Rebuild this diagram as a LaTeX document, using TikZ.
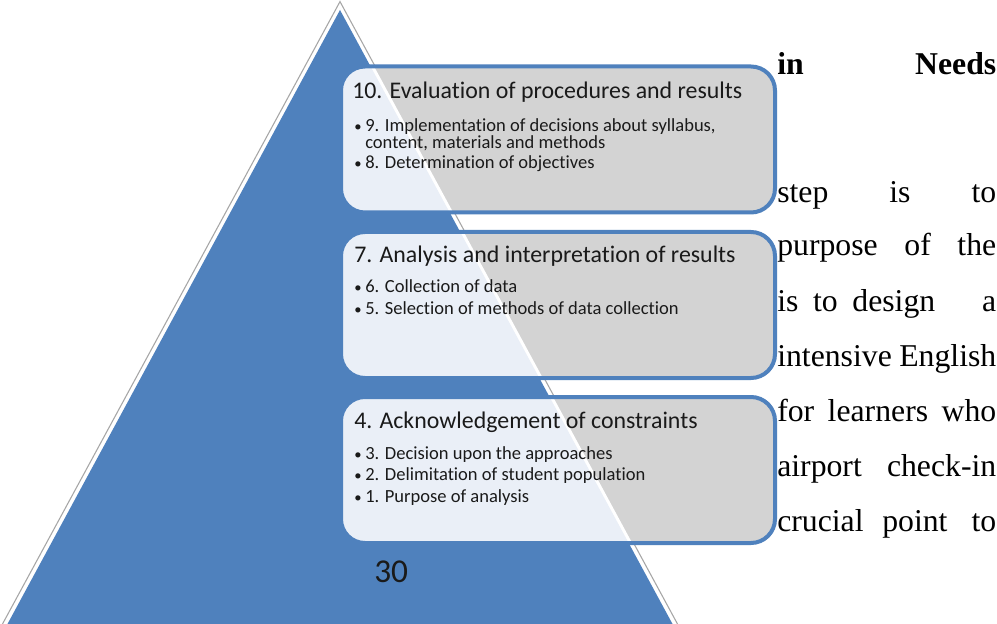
\documentclass[tikz,border=0pt]{standalone}
\usepackage{fontspec}
\setmainfont{Carlito}[Ligatures={NoCommon}]
\newfontfamily\tnr{Liberation Serif}
\definecolor{triblue}{HTML}{4F81BD}
\definecolor{boxgray}{HTML}{D3D3D3}
\definecolor{boxlight}{HTML}{EAEFF7}
\definecolor{outlinegray}{HTML}{A6A6A6}
\definecolor{ink}{HTML}{1A1A1A}
\begin{document}
\begin{tikzpicture}[x=0.75pt,y=-0.75pt,
  boxstyle/.style={rectangle, inner sep=0pt, outer sep=0pt, minimum width=325.5pt, minimum height=109.5pt, rounded corners=18pt, fill=boxgray},
  border/.style={draw=triblue, line width=3pt, rounded corners=18pt},
  title/.style={anchor=base west, inner sep=0pt, font=\fontsize{17.9}{20}\selectfont, text=ink},
  item/.style={anchor=base west, inner sep=0pt, font=\fontsize{13.9}{16}\selectfont, text=ink},
  dotm/.style={anchor=base west, inner sep=0pt, font=\fontsize{11}{12}\selectfont, text=ink},
  body/.style={anchor=base west, inner sep=0pt, font=\tnr\fontsize{23.8}{28}\selectfont, text=black},
]
\clip (0,0) rectangle (997,624);
\fill[white] (0,0) rectangle (997,624);
% triangle
\draw[outlinegray, line width=0.8pt] (-11.6,650) -- (340,1.6) -- (691.6,650);
\fill[triblue] (-6.6,650) -- (340,10) -- (686.6,650) -- cycle;
% boxes
\foreach \nm/\cy in {b1/139.5, b2/305, b3/470} {
  \node[boxstyle] (\nm) at (558,\cy) {};
  \begin{scope}
    \clip[rounded corners=18pt] (\nm.south west) rectangle (\nm.north east);
    \fill[white] (-10.1,650) -- (340,3.5) -- (690.1,650) -- cycle;
    \fill[boxlight] (-6.6,650) -- (340,10) -- (686.6,650) -- cycle;
  \end{scope}
  \draw[border] (\nm.south west) rectangle (\nm.north east);
}
% box 1 text
\node[title] (t1) at (352,99) {10. Evaluation of procedures and results};
\node[dotm] (d11) at (354,132) {•};
\node[item] (i11) at (365,132) {9. Implementation of decisions about syllabus,};
\node[item] (i12) at (365,149) {content, materials and methods};
\node[dotm] (d13) at (354,169) {•};
\node[item] (i13) at (365,169) {8. Determination of objectives};
% box 2 text
\node[title] (t2) at (354,263) {7. Analysis and interpretation of results};
\node[dotm] (d21) at (354,293) {•};
\node[item] (i21) at (365,293) {6. Collection of data};
\node[dotm] (d22) at (354,315) {•};
\node[item] (i22) at (365,315) {5. Selection of methods of data collection};
% box 3 text
\node[title] (t3) at (354,428) {4. Acknowledgement of constraints};
\node[dotm] (d31) at (354,459) {•};
\node[item] (i31) at (365,459) {3. Decision upon the approaches};
\node[dotm] (d32) at (354,480) {•};
\node[item] (i32) at (365,480) {2. Delimitation of student population};
\node[dotm] (d33) at (354,502) {•};
\node[item] (i33) at (365,502) {1. Purpose of analysis};
% page number
\node[anchor=base west, inner sep=0pt, font=\fontsize{25}{28}\selectfont, text=ink] (pg) at (374,582) {30};
% right-hand text
\node[body] (r1) at (777,75) {\makebox[164.25pt][l]{\bfseries in\hfill Needs}};
\node[body] (r2) at (777,203) {\makebox[164.25pt][l]{step\hfill is\hfill to}};
\node[body] (r3) at (777,256) {\makebox[164.25pt][l]{purpose\hfill of\hfill the}};
\node[body] (r4) at (777,311) {\makebox[164.25pt][l]{is\hspace{11pt}to\hspace{11pt}design\hfill a}};
\node[body] (r5) at (777,366) {\makebox[164.25pt][l]{intensive\hfill English}};
\node[body] (r6) at (777,421) {\makebox[164.25pt][l]{for\hfill learners\hfill who}};
\node[body] (r7) at (777,476) {\makebox[164.25pt][l]{airport\hfill check-in}};
\node[body] (r8) at (777,531) {\makebox[164.25pt][l]{crucial\hspace{14pt}point\hfill to}};
\end{tikzpicture}
\end{document}
